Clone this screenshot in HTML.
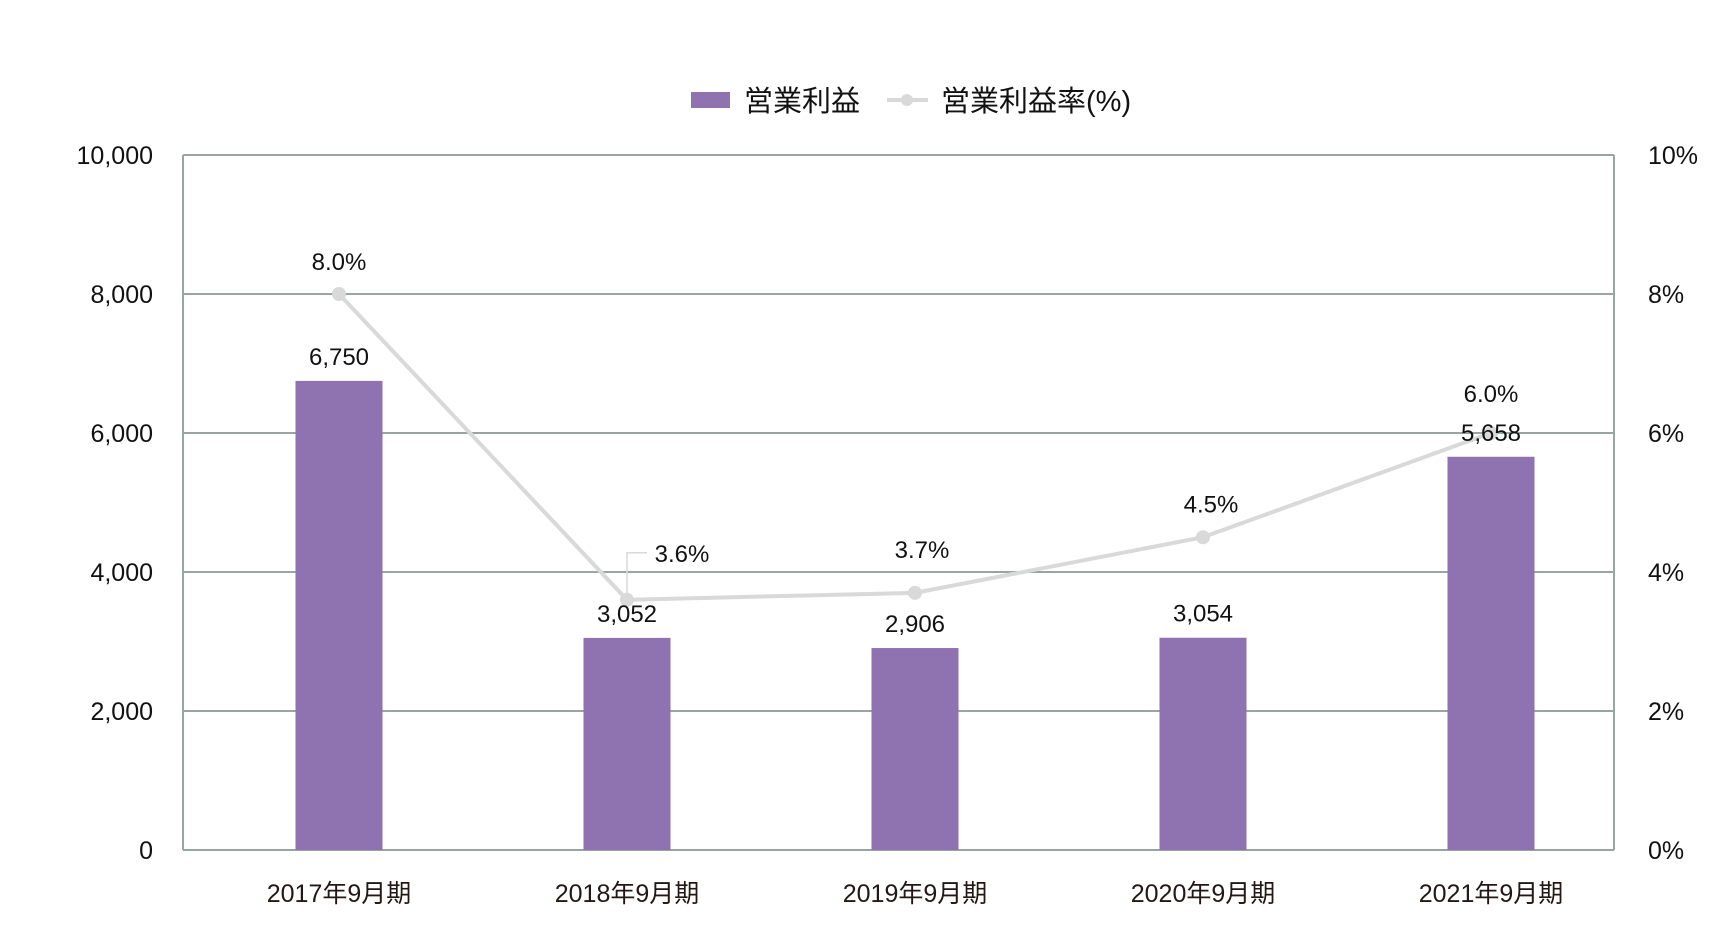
<!DOCTYPE html>
<html><head><meta charset="utf-8"><style>
body{margin:0;background:#fff;}
svg{display:block;font-family:"Liberation Sans","Noto Sans CJK JP",sans-serif;}
</style></head><body>
<svg id="chart" width="1732" height="946" viewBox="0 0 1732 946">
<g>
 <rect x="691" y="92" width="39" height="16" fill="#8e73b0"/>
 <text x="744" y="111" font-size="29" fill="#111">営業利益</text>
 <line x1="887" y1="100" x2="928" y2="100" stroke="#d9d9d9" stroke-width="4"/>
 <circle cx="907" cy="100" r="6" fill="#d9d9d9"/>
 <text x="941" y="111" font-size="29" fill="#111">営業利益率(%)</text>
</g>
<g id="grid"></g><g id="bars"></g><g id="line"></g><g id="labels"></g>
</svg>
<script>
const categories=["2017年9月期","2018年9月期","2019年9月期","2020年9月期","2021年9月期"];
const profit=[6750,3052,2906,3054,5658];
const profitLabels=["6,750","3,052","2,906","3,054","5,658"];
const rate=[8.0,3.6,3.7,4.5,6.0];
const rateLabels=["8.0%","3.6%","3.7%","4.5%","6.0%"];
const leftTicks=[0,2000,4000,6000,8000,10000];
const leftTickLabels=["0","2,000","4,000","6,000","8,000","10,000"];
const rightTicks=[0,2,4,6,8,10];
const rightTickLabels=["0%","2%","4%","6%","8%","10%"];

const NS="http://www.w3.org/2000/svg";
const L=183,R=1614,T=155,B=850;
const yL=v=>B-(v/10000)*(B-T);
const yR=v=>B-(v/10)*(B-T);
const xC=i=>339+i*288;
function mk(tag,attrs,parent,txt){const e=document.createElementNS(NS,tag);for(const k in attrs)e.setAttribute(k,attrs[k]);if(txt!==undefined)e.textContent=txt;parent.appendChild(e);return e;}
const grid=document.getElementById('grid'),bars=document.getElementById('bars'),line=document.getElementById('line'),labels=document.getElementById('labels');

leftTicks.forEach((t,i)=>{
 const g=mk('line',{x1:L,x2:R,y1:yL(t),y2:yL(t),stroke:'#9aa5a3','stroke-width':2},grid);
 
 
 const tx=mk('text',{x:153,y:yL(t)+9,'font-size':25,'text-anchor':'end',fill:'#111'},grid,leftTickLabels[i]);
 
 
});
rightTicks.forEach((t,i)=>{
 const tx=mk('text',{x:1648,y:yR(t)+9,'font-size':25,fill:'#111'},grid,rightTickLabels[i]);
 
 
});
const la=mk('line',{x1:L,x2:L,y1:T,y2:B,stroke:'#9aa5a3','stroke-width':2},grid);


const ra=mk('line',{x1:R,x2:R,y1:T,y2:B,stroke:'#9aa5a3','stroke-width':2},grid);



const bw=87;
profit.forEach((v,i)=>{
 const r=mk('rect',{x:xC(i)-bw/2,y:yL(v),width:bw,height:B-yL(v),fill:'#8e73b0'},bars);
 
 
 const t=mk('text',{x:xC(i),y:yL(v)-16,'font-size':24,'text-anchor':'middle',fill:'#111'},labels,profitLabels[i]);
 
 
 const c=mk('text',{x:xC(i),y:902,'font-size':25,'text-anchor':'middle',fill:'#231815'},labels,categories[i]);
 
 
});
const pts=rate.map((v,i)=>xC(i)+','+yR(v)).join(' ');
const pl=mk('polyline',{points:pts,fill:'none',stroke:'#d9d9d9','stroke-width':4},line);


rate.forEach((v,i)=>{
 const c=mk('circle',{cx:xC(i),cy:yR(v),r:7,fill:'#d9d9d9'},line);
 
 
 let lx=xC(i),ly=yR(v)-24;
 if(i===1){
  lx=xC(i)+55;ly=yR(v)-38;
  const p=mk('polyline',{points:`${xC(i)},${yR(v)} ${xC(i)},${yR(v)-47} ${xC(i)+20},${yR(v)-47}`,fill:'none',stroke:'#d9d9d9','stroke-width':1.5},line);
  
  
 } else if(i===2){lx=xC(i)+7;ly=yR(v)-35;}
 else if(i===3){lx=xC(i)+8;ly=yR(v)-25;}
 else if(i===4){ly=yR(v)-31;}
 const t=mk('text',{x:lx,y:ly,'font-size':24,'text-anchor':'middle',fill:'#111'},labels,rateLabels[i]);
 
 
});
</script>
</body></html>
